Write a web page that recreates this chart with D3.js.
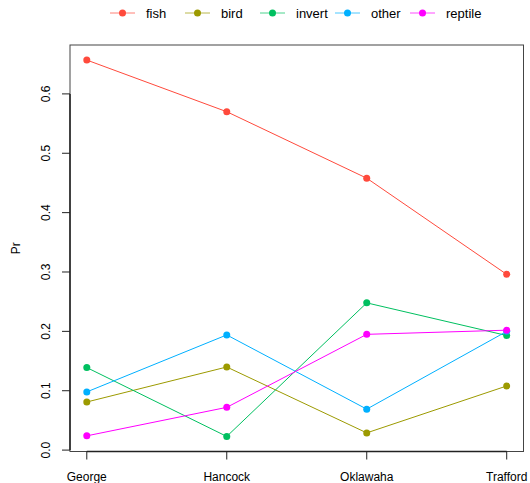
<!DOCTYPE html>
<html>
  <head>
    <meta charset="utf-8">
    <title>Pr by lake</title>
    <script type="text/javascript" src="https://cdn.jsdelivr.net/npm/d3@7"></script>
    <style>
      body { margin: 0; background: #fff; }
      text { font-family: "Liberation Sans", Arial, sans-serif; fill: #000; }
    </style>
  </head>
  <body>
    <div id="chart"></div>
    <script type="text/javascript">
      var lakes = ['George', 'Hancock', 'Oklawaha', 'Trafford'];
      var fish    = [0.657, 0.570, 0.458, 0.296];
      var bird    = [0.081, 0.140, 0.029, 0.108];
      var invert  = [0.139, 0.023, 0.248, 0.193];
      var other   = [0.098, 0.194, 0.069, 0.200];
      var reptile = [0.024, 0.072, 0.195, 0.202];
      var seriesNames = ['fish', 'bird', 'invert', 'other', 'reptile'];
      var yTicks = [0, 0.1, 0.2, 0.3, 0.4, 0.5, 0.6];

      var series = [fish, bird, invert, other, reptile];
      var colors = ['#ff4a3c', '#9c9a00', '#00c060', '#00b0ff', '#ff00ff'];

      var width = 530, height = 483;
      // note: "top" is taken by window.top, so plot edges get their own names
      var plotL = 70, plotR = 523.5, plotT = 45, plotB = 451.5;

      var svg = d3.select('#chart').append('svg')
        .attr('width', width)
        .attr('height', height);

      // R style 4% padding on both axes
      var x = d3.scaleLinear().domain([1 - 0.12, 4 + 0.12]).range([plotL, plotR]);
      var allVals = d3.merge(series);
      var ymin = d3.min(allVals), ymax = d3.max(allVals);
      var pad = (ymax - ymin) * 0.04;
      var y = d3.scaleLinear().domain([ymin - pad, ymax + pad]).range([plotB, plotT]);

      var color = d3.scaleOrdinal().domain(seriesNames).range(colors);

      // box
      svg.append('rect')
        .attr('x', plotL).attr('y', plotT)
        .attr('width', plotR - plotL).attr('height', plotB - plotT)
        .attr('fill', 'none').attr('stroke', '#444').attr('stroke-width', 1);

      // y axis
      var yAxis = svg.append('g').attr('transform', 'translate(' + plotL + ',0)');
      yAxis.append('line')
        .attr('x1', 0).attr('x2', 0)
        .attr('y1', y(0)).attr('y2', y(0.6))
        .attr('stroke', '#222').attr('stroke-width', 1.5);
      yTicks.forEach(function(t) {
        yAxis.append('line')
          .attr('x1', -8).attr('x2', 0)
          .attr('y1', y(t)).attr('y2', y(t))
          .attr('stroke', '#222');
        yAxis.append('text')
          .attr('transform', 'translate(-20,' + y(t) + ') rotate(-90)')
          .attr('text-anchor', 'middle')
          .style('font-size', '12px')
          .text(d3.format('.1f')(t));
      });

      // x axis
      var xAxis = svg.append('g').attr('transform', 'translate(0,' + plotB + ')');
      xAxis.append('line')
        .attr('x1', x(1)).attr('x2', x(4))
        .attr('y1', 0).attr('y2', 0)
        .attr('stroke', '#222').attr('stroke-width', 1.5);
      lakes.forEach(function(l, i) {
        xAxis.append('line')
          .attr('x1', x(i + 1)).attr('x2', x(i + 1))
          .attr('y1', 0).attr('y2', 8)
          .attr('stroke', '#222');
        xAxis.append('text')
          .attr('x', x(i + 1)).attr('y', 29)
          .attr('text-anchor', 'middle')
          .style('font-size', '12px')
          .text(l);
      });

      svg.append('text')
        .attr('transform', 'translate(20,' + ((plotT + plotB) / 2) + ') rotate(-90)')
        .attr('text-anchor', 'middle')
        .style('font-size', '12px')
        .text('Pr');

      var line = d3.line()
        .x(function(d, i) { return x(i + 1); })
        .y(function(d) { return y(d); });

      series.forEach(function(s, k) {
        var c = color(seriesNames[k]);
        svg.append('path')
          .attr('d', line(s))
          .attr('fill', 'none')
          .attr('stroke', c)
          .attr('stroke-width', 1);
        svg.selectAll('.pt' + k)
          .data(s)
          .enter()
          .append('circle')
          .attr('cx', function(d, i) { return x(i + 1); })
          .attr('cy', function(d) { return y(d); })
          .attr('r', 3.5)
          .attr('fill', c);
      });

      // legend on top
      var legendX = [110, 185, 260, 335, 410];
      var legend = svg.selectAll('.legend')
        .data(seriesNames)
        .enter()
        .append('g')
        .attr('class', 'legend')
        .attr('transform', function(d, i) { return 'translate(' + legendX[i] + ',13)'; });
      legend.append('line')
        .attr('x1', 0).attr('x2', 25)
        .attr('stroke', function(d) { return color(d); })
        .attr('stroke-opacity', 0.7);
      legend.append('circle')
        .attr('cx', 12.5).attr('r', 3.5)
        .attr('fill', function(d) { return color(d); });
      legend.append('text')
        .attr('x', 36).attr('y', 4.5)
        .style('font-size', '13px')
        .text(function(d) { return d; });
    </script>
  </body>
</html>
